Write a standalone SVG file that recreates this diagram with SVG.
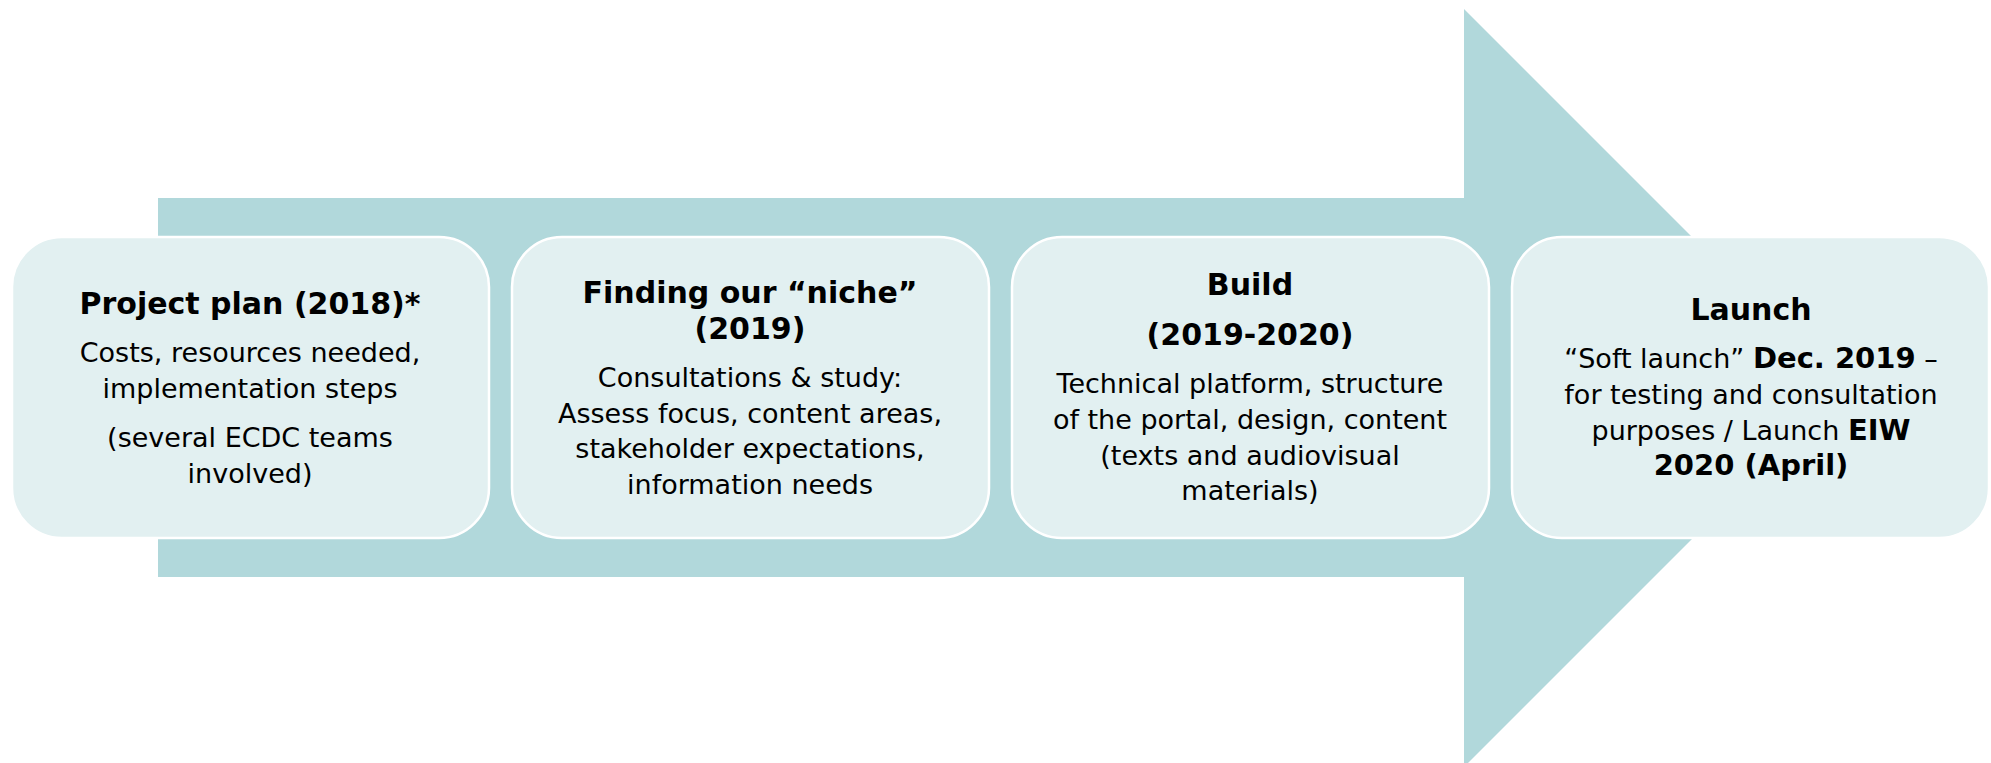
<svg xmlns="http://www.w3.org/2000/svg" width="1991" height="763" viewBox="0 0 1991 763">
<style>
.box{fill:#E2F0F1;stroke:#FFFFFF;stroke-width:2.5}
.t{font-family:"DejaVu Sans","Verdana",sans-serif;font-size:27px;fill:#000;text-anchor:middle}
.b{font-weight:bold;font-size:30px}
.bi{font-weight:bold;font-size:29px}
</style>
<rect width="1991" height="763" fill="#FFFFFF"/>
<g id="arrow">
<polygon points="158,198 1464,198 1464,9 1843,388 1464,767 1464,577 158,577" fill="#B1D8DB"/>
</g>
<g id="connectors"></g>
<g id="node1">
<rect class="box" x="12" y="237" width="477" height="301" rx="50" ry="50"/>
<text class="t b" x="250" y="314">Project plan (2018)*</text>
<text class="t" x="250" y="362">Costs, resources needed,</text>
<text class="t" x="250" y="398">implementation steps</text>
<text class="t" x="250" y="447">(several ECDC teams</text>
<text class="t" x="250" y="483">involved)</text>
</g>
<g id="node2">
<rect class="box" x="512" y="237" width="477" height="301" rx="50" ry="50"/>
<text class="t b" x="750" y="303">Finding our “niche”</text>
<text class="t b" x="750" y="339">(2019)</text>
<text class="t" x="750" y="387">Consultations &amp; study:</text>
<text class="t" x="750" y="423">Assess focus, content areas,</text>
<text class="t" x="750" y="458">stakeholder expectations,</text>
<text class="t" x="750" y="494">information needs</text>
</g>
<g id="node3">
<rect class="box" x="1012" y="237" width="477" height="301" rx="50" ry="50"/>
<text class="t b" x="1250" y="295">Build</text>
<text class="t b" x="1250" y="345">(2019-2020)</text>
<text class="t" x="1250" y="393">Technical platform, structure</text>
<text class="t" x="1250" y="429">of the portal, design, content</text>
<text class="t" x="1250" y="465">(texts and audiovisual</text>
<text class="t" x="1250" y="500">materials)</text>
</g>
<g id="node4">
<rect class="box" x="1512" y="237" width="477" height="301" rx="50" ry="50"/>
<text class="t b" x="1751" y="320">Launch</text>
<text class="t" x="1751" y="368">“Soft launch” <tspan class="bi">Dec. 2019</tspan> –</text>
<text class="t" x="1751" y="404">for testing and consultation</text>
<text class="t" x="1751" y="440">purposes / Launch <tspan class="bi">EIW</tspan></text>
<text class="t bi" x="1751" y="475">2020 (April)</text>
</g>
</svg>
